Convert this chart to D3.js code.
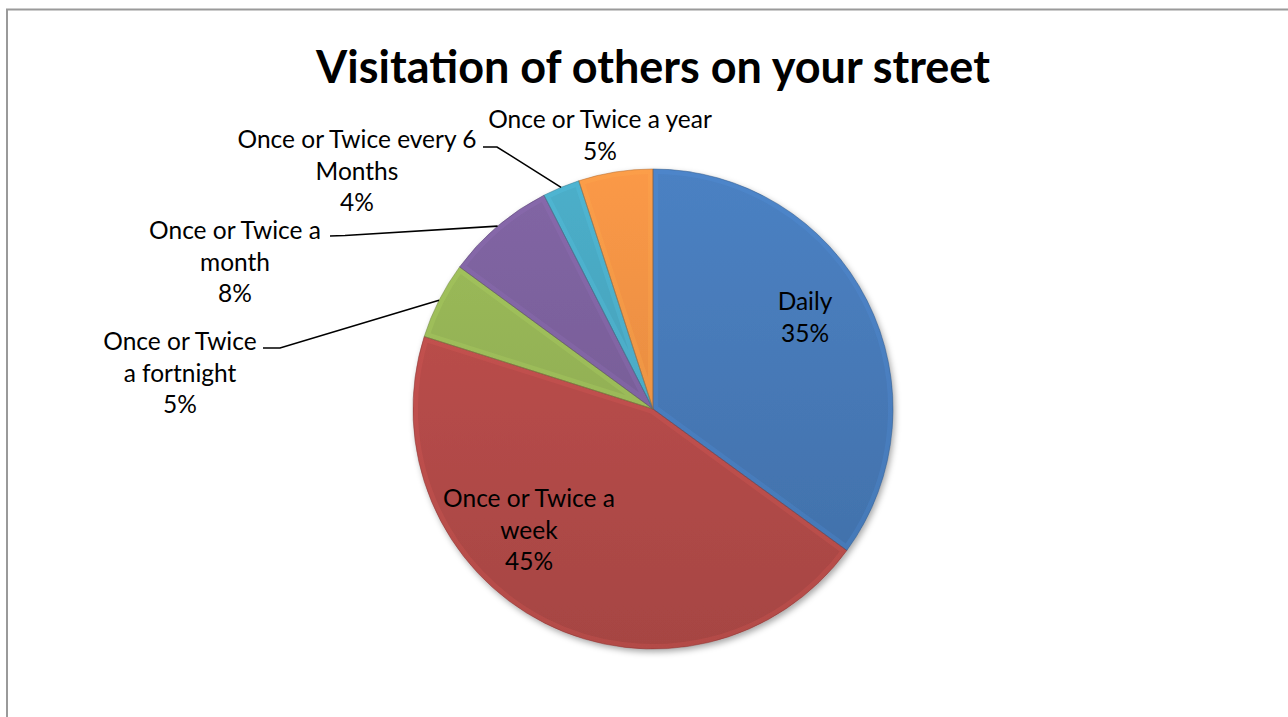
<!DOCTYPE html>
<html lang="en">
<head>
<meta charset="UTF-8">
<title>Visitation of others on your street</title>
<script src="https://d3js.org/d3.v7.min.js"></script>
<style>
    body { margin: 0; background: white; }
    svg { display: block; }
    .lbl { font-family: Lato, "Open Sans", sans-serif; fill: #000; }
    .title { font-family: Lato, "Open Sans", sans-serif; font-weight: bold; fill: #000; }
</style>
</head>
<body>
<svg width="1288" height="717"></svg>
<script>
    // data
    var categories = ["Daily", "Once or Twice a week", "Once or Twice a fortnight",
        "Once or Twice a month", "Once or Twice every 6 Months", "Once or Twice a year"];
    var shares = [35.0, 44.8, 5.2, 7.4, 2.5, 5.0];
    var pctLabels = ["35%", "45%", "5%", "8%", "4%", "5%"];
    var labelLines = [["Daily"], ["Once or Twice a", "week"], ["Once or Twice", "a fortnight"],
        ["Once or Twice a", "month"], ["Once or Twice every 6", "Months"], ["Once or Twice a year"]];
    var colors = ["#4a7fc0", "#c0504d", "#9bbb59", "#8064a2", "#4bacc6", "#f79646"];

    // layout: label anchor (centre x, first baseline) and leader start/elbow
    var labelPos = [[805, 310], [529, 507], [180, 350], [235, 239], [357, 148], [600, 128]];
    var leaders = [null, null, [[263, 348], [280, 348]], [[330, 236], [345, 235.5]], [[483, 147], [497, 147]], null];

    var svg = d3.select("svg");
    var cx = 653, cy = 409, r = 240, lineH = 31.5;

    svg.append("rect")
        .attr("x", 7).attr("y", 9.5)
        .attr("width", 1400).attr("height", 800)
        .attr("fill", "white")
        .attr("stroke", "#9a9a9a")
        .attr("stroke-width", 2);

    var title = svg.append("text")
        .attr("class", "title")
        .attr("x", cx).attr("y", 83)
        .attr("text-anchor", "middle")
        .attr("font-size", 40)
        .text("Visitation of others on your street");
    var tw = title.node().getComputedTextLength();
    title.attr("font-size", 40 * 674 / tw);

    var defs = svg.append("defs");
    var shadow = defs.append("filter").attr("id", "shadow")
        .attr("x", "-10%").attr("y", "-10%").attr("width", "120%").attr("height", "120%");
    shadow.append("feDropShadow")
        .attr("dx", 2).attr("dy", 3).attr("stdDeviation", 3)
        .attr("flood-color", "#000").attr("flood-opacity", 0.35);

    var pie = d3.pie().sort(null).value(function(d) { return d; });
    var arcs = pie(shares);
    var arc = d3.arc().innerRadius(0).outerRadius(r);

    colors.forEach(function(c, i) {
        var g = defs.append("linearGradient").attr("id", "grad" + i)
            .attr("gradientUnits", "userSpaceOnUse")
            .attr("x1", 0).attr("y1", -r).attr("x2", 0).attr("y2", r);
        g.append("stop").attr("offset", "0%").attr("stop-color", d3.color(c).brighter(0.05));
        g.append("stop").attr("offset", "100%").attr("stop-color", d3.color(c).darker(0.4));
        defs.append("clipPath").attr("id", "clip" + i)
            .append("path").attr("d", arc(arcs[i]));
    });

    var pieG = svg.append("g")
        .attr("transform", "translate(" + cx + "," + cy + ")");
    var slices = pieG.append("g").attr("filter", "url(#shadow)");

    slices.selectAll("path.slice")
        .data(arcs)
        .enter().append("path")
        .attr("class", "slice")
        .attr("d", arc)
        .attr("fill", function(d, i) { return "url(#grad" + i + ")"; });

    // soft bevel rim inside each slice
    pieG.selectAll("path.rim")
        .data(arcs)
        .enter().append("path")
        .attr("class", "rim")
        .attr("d", arc)
        .attr("clip-path", function(d, i) { return "url(#clip" + i + ")"; })
        .attr("fill", "none")
        .attr("stroke", function(d, i) { return d3.color(colors[i]).brighter(0.5); })
        .attr("stroke-opacity", 0.22)
        .attr("stroke-width", 10)
        .attr("stroke-linejoin", "round");

    pieG.selectAll("path.edge")
        .data(arcs)
        .enter().append("path")
        .attr("class", "edge")
        .attr("d", arc)
        .attr("fill", "none")
        .attr("stroke", function(d, i) { return d3.color(colors[i]).darker(1); })
        .attr("stroke-opacity", 0.5)
        .attr("stroke-width", 1);

    // leader lines
    arcs.forEach(function(d, i) {
        if (!leaders[i]) return;
        var a = (d.startAngle + d.endAngle) / 2;
        var end = [cx + r * Math.sin(a), cy - r * Math.cos(a)];
        var pts = leaders[i].concat([end]);
        svg.append("path")
            .attr("d", d3.line()(pts))
            .attr("fill", "none")
            .attr("stroke", "#000")
            .attr("stroke-width", 1.6);
    });

    // labels
    var labelG = svg.append("g");
    var probe = labelG.append("text").attr("class", "lbl").attr("font-size", 20)
        .text("Once or Twice every 6");
    var fs = 20 * 239 / probe.node().getComputedTextLength();
    probe.remove();

    labelLines.forEach(function(lines, i) {
        var all = lines.concat([pctLabels[i]]);
        var t = labelG.append("text")
            .attr("class", "lbl")
            .attr("font-size", fs)
            .attr("text-anchor", "middle");
        all.forEach(function(s, j) {
            t.append("tspan")
                .attr("x", labelPos[i][0])
                .attr("y", labelPos[i][1] + j * lineH)
                .text(s);
        });
    });
</script>
</body>
</html>
